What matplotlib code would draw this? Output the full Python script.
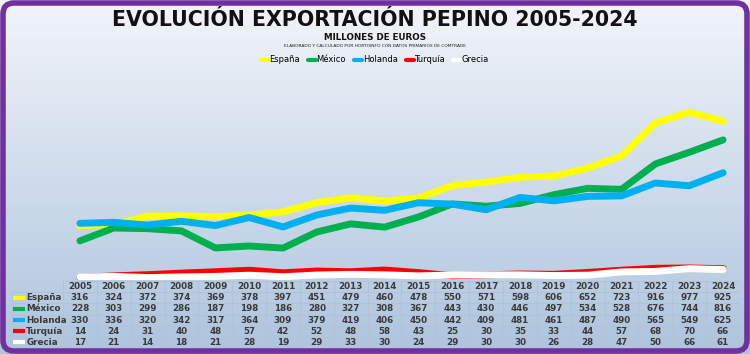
"""Evolución exportación pepino 2005-2024 (millones de euros)."""
import matplotlib
matplotlib.use("Agg")
import matplotlib.pyplot as plt
import numpy as np
from matplotlib.patches import FancyBboxPatch

years = list(range(2005, 2025))
espana  = [316, 324, 372, 374, 369, 378, 397, 451, 479, 460, 478, 550, 571, 598, 606, 652, 723, 916, 977, 925]
mexico  = [228, 303, 299, 286, 187, 198, 186, 280, 327, 308, 367, 443, 430, 446, 497, 534, 528, 676, 744, 816]
holanda = [330, 336, 320, 342, 317, 364, 309, 379, 419, 406, 450, 442, 409, 481, 461, 487, 490, 565, 549, 625]
turquia = [14, 24, 31, 40, 48, 57, 42, 52, 48, 58, 43, 25, 30, 35, 33, 44, 57, 68, 70, 66]
grecia  = [17, 21, 14, 18, 21, 28, 19, 29, 33, 30, 24, 29, 30, 30, 26, 28, 47, 50, 66, 61]

names  = ["España", "México", "Holanda", "Turquía", "Grecia"]
series = [espana, mexico, holanda, turquia, grecia]
colors = ["#FFFF00", "#00B050", "#00B0F0", "#FF0000", "#FFFFFF"]

W, H = 750, 354
fig = plt.figure(figsize=(W / 100, H / 100), dpi=100)

# background gradient + purple rounded frame (pixel coords)
bg = fig.add_axes([0, 0, 1, 1], zorder=0)
grad = np.linspace(0, 1, 256).reshape(-1, 1)
top, bot = np.array([0.95, 0.96, 0.98]), np.array([0.68, 0.77, 0.87])
img = top + (bot - top) * grad[..., None]
bg.imshow(img, aspect="auto", extent=[0, W, 0, H], origin="upper")
bg.add_patch(FancyBboxPatch((3, 3), W - 6, H - 6,
                            boxstyle="round,pad=0,rounding_size=11",
                            fill=False, edgecolor="#7030A0", linewidth=4))
bg.set_xlim(0, W)
bg.set_ylim(0, H)
bg.axis("off")

# titles
fig.text(0.5, 1 - 20 / H, "EVOLUCIÓN EXPORTACIÓN PEPINO 2005-2024",
         ha="center", va="center", fontsize=14.8, fontweight="bold", color="#111111")
fig.text(0.5, 1 - 37 / H, "MILLONES DE EUROS", ha="center", va="center",
         fontsize=6.3, fontweight="bold", color="#111111")
fig.text(0.5, 1 - 46 / H, "ELABORADO Y CALCULADO POR HORTOINFO CON DATOS PRIMARIOS DE COMTRADE",
         ha="center", va="center", fontsize=3.2, color="#222222")

# main chart
x0, x1 = 63, 740
ax = fig.add_axes([x0 / W, (H - 280) / H, (x1 - x0) / W, (280 - 74) / H], zorder=2)
ax.patch.set_alpha(0)
for name, vals, c in zip(names, series, colors):
    ax.plot(years, vals, color=c, lw=5, solid_capstyle="round",
            solid_joinstyle="round", label=name)
ax.set_xlim(2004.5, 2024.5)
ax.set_ylim(0, 1200)
ax.axis("off")

leg = fig.legend(*ax.get_legend_handles_labels(), loc="center",
                 bbox_to_anchor=(0.5, 1 - 60 / H), ncol=5, frameon=False,
                 fontsize=6, handlelength=0.9, handletextpad=0.1,
                 columnspacing=1.0)
for h in leg.get_lines():
    h.set_linewidth(3)

# data table below the chart
lab_w = (x0 - 12) / ((x1 - x0) / 20)
tb = fig.add_axes([12 / W, (H - 348) / H, (x1 - 12) / W, 67 / H], zorder=2)
tb.patch.set_alpha(0)
tb.set_xlim(2004.5 - lab_w, 2024.5)
tb.set_ylim(6, 0)
tb.axis("off")
gc, glw = "#B3C2D6", 0.8
tb.hlines(0, 2004.5, 2024.5, color=gc, lw=glw)
tb.hlines(range(1, 7), 2004.5 - lab_w, 2024.5, color=gc, lw=glw)
tb.vlines([2004.5 + k for k in range(21)], 0, 6, color=gc, lw=glw)
tb.vlines(2004.5 - lab_w, 1, 6, color=gc, lw=glw)
txt = dict(ha="center", va="center", fontsize=6.3, fontweight="bold", color="#3A3A3A")
for yr in years:
    tb.text(yr, 0.5, str(yr), **txt)
for r, (name, vals, c) in enumerate(zip(names, series, colors), start=1):
    kx = 2004.5 - lab_w + 0.03
    tb.plot([kx, kx + 0.36], [r + 0.5, r + 0.5], color=c, lw=3, solid_capstyle="butt")
    tb.text(kx + 0.39, r + 0.5, name, ha="left", va="center", fontsize=6.3,
            fontweight="bold", color="#3A3A3A")
    for yr, v in zip(years, vals):
        tb.text(yr, r + 0.5, str(v), **txt)

plt.savefig("out.png", dpi=100, facecolor="white")
plt.close()
